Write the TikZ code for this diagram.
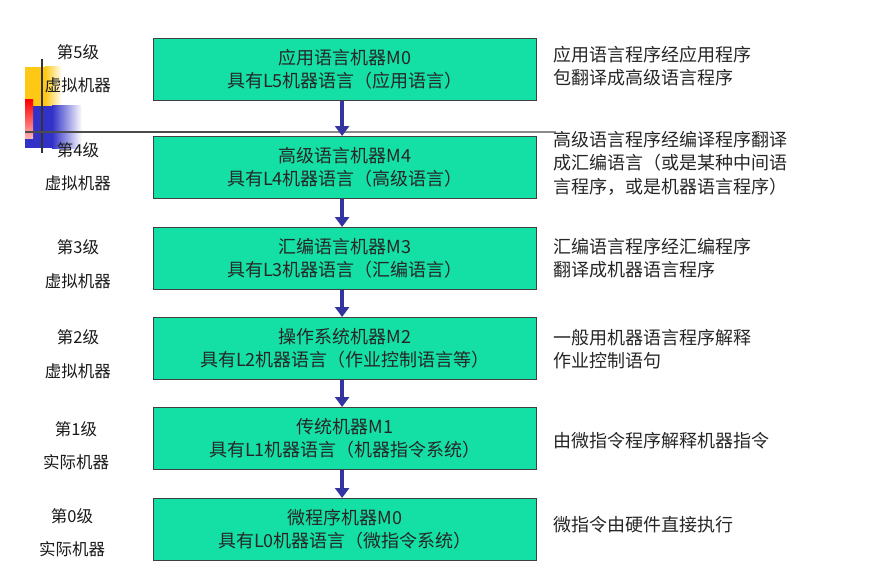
\documentclass[tikz,border=0pt]{standalone}
\usepackage{fontspec}
\setmainfont{Noto Sans CJK SC}
\usetikzlibrary{arrows.meta}
\begin{document}
\begin{tikzpicture}[x=1pt,y=-1pt,
  lvl/.style={draw=black!75, line width=1.2pt, fill=boxgreen, minimum width=383pt, minimum height=62pt, anchor=north west, align=center, inner sep=0pt, font=\fontsize{18}{23}\selectfont, text=black!85},
  side/.style={anchor=west, align=left, font=\fontsize{18}{23.5}\selectfont, text=black!85, inner sep=0pt},
  lab/.style={font=\fontsize{16.5}{17}\selectfont, text=black!90, inner sep=0pt},
  arr/.style={draw=arrowblue, line width=3.5pt, -{Triangle[length=10pt,width=14pt]}}]
\definecolor{boxgreen}{RGB}{20,224,166}
\definecolor{arrowblue}{RGB}{52,52,160}
\definecolor{decoyellow}{RGB}{255,200,20}
\definecolor{decoblue}{RGB}{50,50,200}
\useasboundingbox (0,0) rectangle (871,578);
% decoration
\fill[decoyellow] (25,67) rectangle (45,106);
\shade[left color=decoyellow, right color=white] (45,67) rectangle (62,106);
\fill[decoblue] (25,106) rectangle (52,148);
\shade[left color=decoblue, right color=white] (52,106) rectangle (82,148);
\shade[top color=red, bottom color=red!30] (25,100) rectangle (33,138);
\draw[black!80, line width=1.3pt] (42,59) -- (42,153);
\draw[black!70, line width=1.5pt] (25,132) -- (280,132);
\draw[black!45, line width=1.5pt] (280,132) -- (556,132);
% boxes
\node[lvl] (b5) at (153,38) {应用语言机器M0\\具有L5机器语言（应用语言）};
\node[lvl] (b4) at (153,136) {高级语言机器M4\\具有L4机器语言（高级语言）};
\node[lvl] (b3) at (153,227) {汇编语言机器M3\\具有L3机器语言（汇编语言）};
\node[lvl] (b2) at (153,317) {操作系统机器M2\\具有L2机器语言（作业控制语言等）};
\node[lvl] (b1) at (153,407) {传统机器M1\\具有L1机器语言（机器指令系统）};
\node[lvl] (b0) at (153,498) {微程序机器M0\\具有L0机器语言（微指令系统）};
% arrows
\draw[arr] ([xshift=-3pt]b5.south) -- ([xshift=-3pt]b4.north);
\draw[arr] ([xshift=-3pt]b4.south) -- ([xshift=-3pt]b3.north);
\draw[arr] ([xshift=-3pt]b3.south) -- ([xshift=-3pt]b2.north);
\draw[arr] ([xshift=-3pt]b2.south) -- ([xshift=-3pt]b1.north);
\draw[arr] ([xshift=-3pt]b1.south) -- ([xshift=-3pt]b0.north);
% left labels
\node[lab] (l5a) at (78,52) {第5级};
\node[lab] (l5b) at (78,85) {虚拟机器};
\node[lab] (l4a) at (78,150) {第4级};
\node[lab] (l4b) at (78,183) {虚拟机器};
\node[lab] (l3a) at (78,247) {第3级};
\node[lab] (l3b) at (78,281) {虚拟机器};
\node[lab] (l2a) at (78,337) {第2级};
\node[lab] (l2b) at (78,371) {虚拟机器};
\node[lab] (l1a) at (76,429) {第1级};
\node[lab] (l1b) at (76,462) {实际机器};
\node[lab] (l0a) at (72,516) {第0级};
\node[lab] (l0b) at (72,549) {实际机器};
% right texts
\node[side] (r5) at (553,66) {应用语言程序经应用程序\\包翻译成高级语言程序};
\node[side] (r4) at (553,163) {高级语言程序经编译程序翻译\\成汇编语言（或是某种中间语\\言程序，或是机器语言程序）};
\node[side] (r3) at (553,258) {汇编语言程序经汇编程序\\翻译成机器语言程序};
\node[side] (r2) at (553,349) {一般用机器语言程序解释\\作业控制语句};
\node[side] (r1) at (553,441) {由微指令程序解释机器指令};
\node[side] (r0) at (553,525) {微指令由硬件直接执行};
\end{tikzpicture}
\end{document}
